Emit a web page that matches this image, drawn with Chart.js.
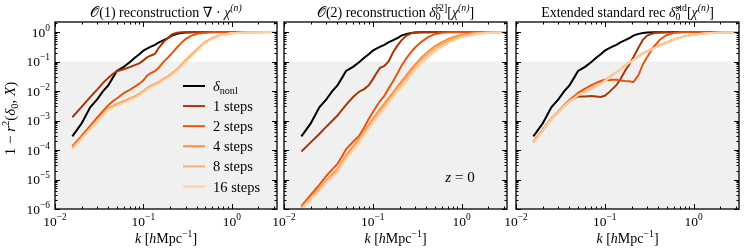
<!DOCTYPE html>
<html>
<head>
<meta charset="utf-8">
<script src="https://cdn.jsdelivr.net/npm/chart.js@4"></script>
<style>
  html, body { margin: 0; padding: 0; background: #fff; }
  #wrap { position: relative; width: 747px; height: 249px; }
  #wrap canvas { position: absolute; left: 0; top: 0; }
</style>
</head>
<body>
<div id="wrap">
  <canvas id="c1" width="747" height="249"></canvas>
  <canvas id="c2" width="747" height="249"></canvas>
  <canvas id="c3" width="747" height="249"></canvas>
</div>
<script>
// wavenumbers k [h/Mpc] shared by every curve
const K = [0.0157, 0.02, 0.025, 0.03, 0.035, 0.04, 0.045, 0.05, 0.06, 0.07, 0.08, 0.09,
  0.1, 0.11, 0.12, 0.135, 0.15, 0.17, 0.19, 0.21, 0.24, 0.27, 0.3, 0.35, 0.42, 0.5,
  0.6, 0.75, 1.0, 1.4, 2.0, 3.2];

// 1 - r^2 of the nonlinear field (same in all panels)
const NONL = [2.9e-4, 8e-4, 2.8e-3, 5.2e-3, 1.0e-2, 1.55e-2, 2.8e-2, 4.8e-2, 6.6e-2, 9.5e-2, 0.135, 0.178,
  0.234, 0.275, 0.316, 0.37, 0.447, 0.537, 0.63, 0.76, 0.87, 0.93, 0.966, 0.986, 0.994, 0.997,
  0.999, 1, 1, 1, 1, 1];

// O(1) reconstruction
const O1_S1 = [1.29e-3, 2.9e-3, 6.2e-3, 1.12e-2, 1.9e-2, 2.8e-2, 3.8e-2, 4.7e-2, 5.5e-2, 6.5e-2, 7.6e-2, 8.7e-2,
  0.11, 0.138, 0.158, 0.18, 0.30, 0.47, 0.63, 0.83, 0.955, 0.982, 0.99, 0.995, 0.998, 0.999,
  1, 1, 1, 1, 1, 1];
const O1_S2 = [1.32e-4, 3.0e-4, 6.6e-4, 1.26e-3, 2.14e-3, 3.3e-3, 4.5e-3, 5.6e-3, 8.5e-3, 1.1e-2, 1.41e-2, 1.78e-2,
  2.3e-2, 3.3e-2, 4.0e-2, 4.7e-2, 6.3e-2, 0.1, 0.138, 0.19, 0.30, 0.44, 0.575, 0.76, 0.89, 0.955,
  0.98, 0.99, 0.997, 0.999, 1, 1];
const O1_S4 = [1.2e-4, 2.7e-4, 5.6e-4, 1.02e-3, 1.7e-3, 2.6e-3, 3.1e-3, 3.6e-3, 4.5e-3, 5.5e-3, 6.6e-3, 8.0e-3,
  1.0e-2, 1.25e-2, 1.48e-2, 1.75e-2, 2.0e-2, 2.65e-2, 3.1e-2, 3.9e-2, 5.4e-2, 7.7e-2, 0.11, 0.17, 0.29, 0.46,
  0.62, 0.81, 0.93, 0.98, 0.994, 0.999];
const O1_S8 = [1.13e-4, 2.55e-4, 5.3e-4, 9.6e-4, 1.6e-3, 2.45e-3, 2.9e-3, 3.4e-3, 4.2e-3, 5.2e-3, 6.2e-3, 7.6e-3,
  9.4e-3, 1.18e-2, 1.4e-2, 1.66e-2, 1.9e-2, 2.5e-2, 2.95e-2, 3.7e-2, 5.1e-2, 7.2e-2, 0.10, 0.16, 0.27, 0.44,
  0.60, 0.795, 0.92, 0.977, 0.993, 0.998];
const O1_S16 = [1.07e-4, 2.4e-4, 5.0e-4, 9.1e-4, 1.51e-3, 2.3e-3, 2.75e-3, 3.2e-3, 4.0e-3, 4.9e-3, 5.9e-3, 7.2e-3,
  8.9e-3, 1.12e-2, 1.32e-2, 1.58e-2, 1.82e-2, 2.4e-2, 2.8e-2, 3.5e-2, 4.8e-2, 6.8e-2, 9.5e-2, 0.15, 0.26, 0.42,
  0.575, 0.78, 0.91, 0.973, 0.991, 0.998];

// O(2) reconstruction
const O2_S1 = [8.9e-5, 1.82e-4, 3.5e-4, 6.2e-4, 9.8e-4, 1.48e-3, 2.3e-3, 3.4e-3, 6.3e-3, 9.5e-3, 1.17e-2, 1.58e-2,
  2.5e-2, 4.0e-2, 6.0e-2, 7.1e-2, 0.10, 0.21, 0.355, 0.525, 0.76, 0.91, 0.977, 0.99, 0.996, 0.998,
  0.999, 1, 1, 1, 1, 1];
const O2_S2 = [1.26e-6, 3.0e-6, 6.6e-6, 1.32e-5, 2.2e-5, 3.4e-5, 6.0e-5, 1.05e-4, 1.9e-4, 3.0e-4, 5.8e-4, 1.12e-3,
  1.9e-3, 3.0e-3, 4.5e-3, 6.9e-3, 1.2e-2, 2.2e-2, 4.0e-2, 7.1e-2, 0.132, 0.21, 0.30, 0.457, 0.676, 0.85,
  0.955, 0.986, 0.995, 0.999, 1, 1];
const O2_S4 = [1.12e-6, 2.5e-6, 5.0e-6, 9.5e-6, 1.5e-5, 2.24e-5, 4.0e-5, 6.6e-5, 1.32e-4, 2.4e-4, 4.4e-4, 7.1e-4,
  1.12e-3, 1.66e-3, 2.35e-3, 3.7e-3, 5.5e-3, 9.1e-3, 1.45e-2, 2.1e-2, 3.5e-2, 5.5e-2, 7.9e-2, 0.132, 0.219, 0.33,
  0.457, 0.63, 0.81, 0.933, 0.982, 0.995];
const O2_S8 = [1.05e-6, 2.3e-6, 4.6e-6, 8.7e-6, 1.35e-5, 2.0e-5, 3.55e-5, 5.75e-5, 1.15e-4, 2.1e-4, 3.8e-4, 6.2e-4,
  9.8e-4, 1.41e-3, 2.0e-3, 3.16e-3, 4.6e-3, 7.6e-3, 1.2e-2, 1.66e-2, 2.8e-2, 4.4e-2, 6.5e-2, 0.11, 0.178, 0.275,
  0.38, 0.55, 0.74, 0.89, 0.966, 0.993];
const O2_S16 = [9.5e-7, 2.1e-6, 4.2e-6, 7.9e-6, 1.2e-5, 1.74e-5, 3.2e-5, 5.0e-5, 1.0e-4, 1.78e-4, 3.3e-4, 5.2e-4,
  8.3e-4, 1.2e-3, 1.66e-3, 2.6e-3, 3.8e-3, 6.3e-3, 1.0e-2, 1.35e-2, 2.24e-2, 3.5e-2, 5.2e-2, 8.9e-2, 0.141, 0.224,
  0.316, 0.468, 0.66, 0.83, 0.944, 0.989];

// extended standard reconstruction
const STD_S1 = [1.9e-4, 4.7e-4, 1.15e-3, 2.0e-3, 3.2e-3, 4.5e-3, 5.6e-3, 6.6e-3, 6.6e-3, 6.8e-3, 6.6e-3, 6.3e-3,
  6.9e-3, 8.7e-3, 1.12e-2, 1.58e-2, 2.5e-2, 5.0e-2, 8.3e-2, 0.141, 0.30, 0.56, 0.76, 0.91, 0.966, 0.986,
  0.995, 0.998, 0.999, 1, 1, 1];
const STD_S2 = [1.9e-4, 4.7e-4, 1.15e-3, 2.0e-3, 3.3e-3, 5.0e-3, 6.6e-3, 8.7e-3, 1.2e-2, 1.55e-2, 1.9e-2, 2.2e-2,
  2.4e-2, 2.35e-2, 2.4e-2, 2.4e-2, 2.3e-2, 2.2e-2, 2.15e-2, 2.0e-2, 3.5e-2, 8.3e-2, 0.14, 0.30, 0.56, 0.80,
  0.93, 0.985, 0.995, 0.999, 1, 1];
const STD_S4 = [1.85e-4, 4.6e-4, 1.15e-3, 1.95e-3, 3.1e-3, 4.6e-3, 5.9e-3, 7.5e-3, 9.8e-3, 1.22e-2, 1.48e-2, 1.83e-2,
  2.25e-2, 2.8e-2, 3.4e-2, 4.3e-2, 5.3e-2, 7.5e-2, 9.4e-2, 0.115, 0.15, 0.19, 0.228, 0.285, 0.365, 0.45,
  0.56, 0.70, 0.83, 0.92, 0.97, 0.993];
const STD_S8 = [1.83e-4, 4.55e-4, 1.13e-3, 1.92e-3, 3.05e-3, 4.5e-3, 5.7e-3, 7.3e-3, 9.5e-3, 1.18e-2, 1.44e-2, 1.79e-2,
  2.2e-2, 2.75e-2, 3.35e-2, 4.25e-2, 5.25e-2, 7.5e-2, 9.3e-2, 0.113, 0.147, 0.186, 0.223, 0.277, 0.355, 0.44,
  0.548, 0.688, 0.82, 0.916, 0.968, 0.992];
const STD_S16 = [1.82e-4, 4.5e-4, 1.12e-3, 1.9e-3, 3.0e-3, 4.4e-3, 5.6e-3, 7.1e-3, 9.3e-3, 1.15e-2, 1.4e-2, 1.75e-2,
  2.15e-2, 2.7e-2, 3.3e-2, 4.2e-2, 5.2e-2, 7.4e-2, 9.2e-2, 0.112, 0.145, 0.182, 0.219, 0.27, 0.347, 0.427,
  0.537, 0.676, 0.813, 0.912, 0.966, 0.991];

const STEP_LABELS = ["1 steps", "2 steps", "4 steps", "8 steps", "16 steps"];
const STEP_COLORS = ["#a63603", "#e6550d", "#fd8d3c", "#fdae6b", "#fdd0a2"];

const X_MIN = 0.01, X_MAX = 3.25;
const Y_MIN = 1e-6, Y_MAX = 2.2;
const SHADE_BELOW = 0.1;

const SERIF = "'Liberation Serif', 'DejaVu Serif', serif";

function font(size, italic) {
  return (italic ? "italic " : "") + size + "px " + SERIF;
}

// small rich text: parts with optional sub/superscripts
function partWidth(ctx, p, size) {
  let w = 0;
  if (p.t) {
    ctx.font = font(size, p.i);
    w += ctx.measureText(p.t).width;
  }
  let s = 0;
  if (p.sup) {
    ctx.font = font(size * 0.7, p.supI);
    s = Math.max(s, ctx.measureText(p.sup).width);
  }
  if (p.sub) {
    ctx.font = font(size * 0.7, p.subI);
    s = Math.max(s, ctx.measureText(p.sub).width);
  }
  return w + s;
}

function drawRich(ctx, parts, x, y, size, align) {
  const w = parts.reduce((a, p) => a + partWidth(ctx, p, size), 0);
  let cx = x;
  if (align === "center") cx = x - w / 2;
  if (align === "right") cx = x - w;
  ctx.save();
  ctx.fillStyle = "#000";
  ctx.textAlign = "left";
  ctx.textBaseline = "alphabetic";
  for (const p of parts) {
    if (p.t) {
      ctx.font = font(size, p.i);
      ctx.fillText(p.t, cx, y);
      cx += ctx.measureText(p.t).width;
    }
    let s = 0;
    if (p.sup) {
      ctx.font = font(size * 0.7, p.supI);
      ctx.fillText(p.sup, cx, y - size * 0.42);
      s = Math.max(s, ctx.measureText(p.sup).width);
    }
    if (p.sub) {
      ctx.font = font(size * 0.7, p.subI);
      ctx.fillText(p.sub, cx, y + size * 0.22);
      s = Math.max(s, ctx.measureText(p.sub).width);
    }
    cx += s;
  }
  ctx.restore();
}

const CHI = { t: "\u03c7", i: true, sup: "(n)", supI: true };
const TITLES = [
  [{ t: "\ud835\udcaa(1) reconstruction \u2207 \u00b7 " }, CHI],
  [{ t: "\ud835\udcaa(2) reconstruction " }, { t: "\u03b4\u0302", i: true, sub: "0", sup: "[2]" }, { t: "[" }, CHI, { t: "]" }],
  [{ t: "Extended standard rec " }, { t: "\u03b4\u0302", i: true, sub: "0", sup: "std" }, { t: "[" }, CHI, { t: "]" }],
];
const X_TITLE = [{ t: "k", i: true }, { t: " [" }, { t: "h", i: true }, { t: "Mpc", sup: "\u22121" }, { t: "]" }];
const Y_TITLE = [{ t: "1 \u2212 " }, { t: "r", i: true, sup: "2" }, { t: "(" }, { t: "\u03b4", i: true, sub: "0" },
  { t: ", " }, { t: "X", i: true }, { t: ")" }];
const NONL_LABEL = [{ t: "\u03b4", i: true, sub: "nonl" }];

function powParts(v) {
  const e = Math.round(Math.log10(v));
  if (Math.abs(v / Math.pow(10, e) - 1) > 1e-6) return null;
  return [{ t: "10", sup: String(e).replace("-", "\u2212") }];
}

function logTicks(min, max) {
  const major = [];
  const minor = [];
  for (let e = Math.floor(Math.log10(min)); e <= Math.ceil(Math.log10(max)); e++) {
    for (let m = 1; m <= 9; m++) {
      const v = m * Math.pow(10, e);
      if (v < min * 0.999 || v > max * 1.001) continue;
      (m === 1 ? major : minor).push(v);
    }
  }
  return { major, minor };
}

function panelPlugin(idx) {
  return {
    id: "panel" + idx,
    beforeDatasetsDraw(chart) {
      const { ctx, chartArea: a, scales } = chart;
      const y = scales.y.getPixelForValue(SHADE_BELOW);
      ctx.save();
      ctx.fillStyle = "#f0f0f0";
      ctx.fillRect(a.left, y, a.right - a.left, a.bottom - y);
      ctx.restore();
    },
    afterDraw(chart) {
      const { ctx, chartArea: a, scales } = chart;
      ctx.save();
      ctx.strokeStyle = "#000";
      ctx.lineWidth = 1;
      ctx.beginPath();
      const xt = logTicks(X_MIN, X_MAX);
      const yt = logTicks(Y_MIN, Y_MAX);
      const mark = (vals, len, axis) => {
        vals.forEach((v) => {
          if (axis === "x") {
            const px = Math.round(scales.x.getPixelForValue(v)) + 0.5;
            ctx.moveTo(px, a.bottom); ctx.lineTo(px, a.bottom - len);
            ctx.moveTo(px, a.top); ctx.lineTo(px, a.top + len);
          } else {
            const py = Math.round(scales.y.getPixelForValue(v)) + 0.5;
            ctx.moveTo(a.left, py); ctx.lineTo(a.left + len, py);
            ctx.moveTo(a.right, py); ctx.lineTo(a.right - len, py);
          }
        });
      };
      mark(xt.major, 5, "x");
      mark(xt.minor, 2.5, "x");
      mark(yt.major, 5, "y");
      mark(yt.minor, 2.5, "y");
      ctx.stroke();
      ctx.lineWidth = 1.3;
      ctx.strokeRect(a.left, a.top, a.right - a.left, a.bottom - a.top);
      ctx.restore();

      // tick labels at the library's own tick values
      scales.x.ticks.forEach((t) => {
        const parts = powParts(t.value);
        if (parts) drawRich(ctx, parts, scales.x.getPixelForValue(t.value), 226, 13.5, "center");
      });
      if (idx === 0) {
        scales.y.ticks.forEach((t) => {
          const parts = powParts(t.value);
          if (parts) drawRich(ctx, parts, 50, scales.y.getPixelForValue(t.value) + 4.5, 13.5, "right");
        });
      }

      const cx = (a.left + a.right) / 2;
      drawRich(ctx, TITLES[idx], cx, 17, 14, "center");
      drawRich(ctx, X_TITLE, cx, 243, 14, "center");

      if (idx === 0) {
        ctx.save();
        ctx.translate(15, (a.top + a.bottom) / 2 + 3);
        ctx.rotate(-Math.PI / 2);
        drawRich(ctx, Y_TITLE, 0, 0, 15, "center");
        ctx.restore();

        // legend inside the first panel
        chart.data.datasets.forEach((ds, i) => {
          const y = 86 + i * 20.1;
          ctx.save();
          ctx.strokeStyle = ds.borderColor;
          ctx.lineWidth = 2;
          ctx.beginPath();
          ctx.moveTo(183, y);
          ctx.lineTo(205, y);
          ctx.stroke();
          ctx.restore();
          if (i === 0) drawRich(ctx, NONL_LABEL, 213, y + 5, 14.5, "left");
          else drawRich(ctx, [{ t: ds.label }], 213, y + 5, 14.5, "left");
        });
      }
      if (idx === 1) {
        drawRich(ctx, [{ t: "z", i: true }, { t: " = 0" }], 460, 182, 15, "center");
      }
    },
  };
}

function series(values, label, color, order) {
  return {
    label,
    data: K.map((k, i) => ({ x: k, y: values[i] })),
    borderColor: color,
    backgroundColor: color,
    borderWidth: 2,
    pointRadius: 0,
    fill: false,
    tension: 0,
    order,
  };
}

function makePanel(id, idx, box, steps) {
  const yW = idx === 0 ? 55 : 0;
  const datasets = [series(NONL, "nonl", "#000000", 10)];
  steps.forEach((vals, i) => datasets.push(series(vals, STEP_LABELS[i], STEP_COLORS[i], 9 - i)));
  return new Chart(document.getElementById(id), {
    type: "line",
    data: { datasets },
    options: {
      responsive: false,
      animation: false,
      devicePixelRatio: 1,
      layout: { padding: { left: box[0] - yW, right: 747 - box[1], top: 22, bottom: 0 } },
      plugins: { legend: { display: false }, tooltip: { enabled: false }, title: { display: false } },
      scales: {
        x: {
          type: "logarithmic",
          min: X_MIN,
          max: X_MAX,
          grid: { display: false, drawTicks: false },
          border: { display: false },
          ticks: { display: false, autoSkip: false },
          afterFit: (s) => { s.height = 40; },
        },
        y: {
          type: "logarithmic",
          min: Y_MIN,
          max: Y_MAX,
          grid: { display: false, drawTicks: false },
          border: { display: false },
          ticks: { display: false, autoSkip: false },
          afterFit: (s) => { s.width = yW; },
        },
      },
    },
    plugins: [panelPlugin(idx)],
  });
}

makePanel("c1", 0, [55, 277], [O1_S1, O1_S2, O1_S4, O1_S8, O1_S16]);
makePanel("c2", 1, [284, 507], [O2_S1, O2_S2, O2_S4, O2_S8, O2_S16]);
makePanel("c3", 2, [516, 739], [STD_S1, STD_S2, STD_S4, STD_S8, STD_S16]);
</script>
</body>
</html>
